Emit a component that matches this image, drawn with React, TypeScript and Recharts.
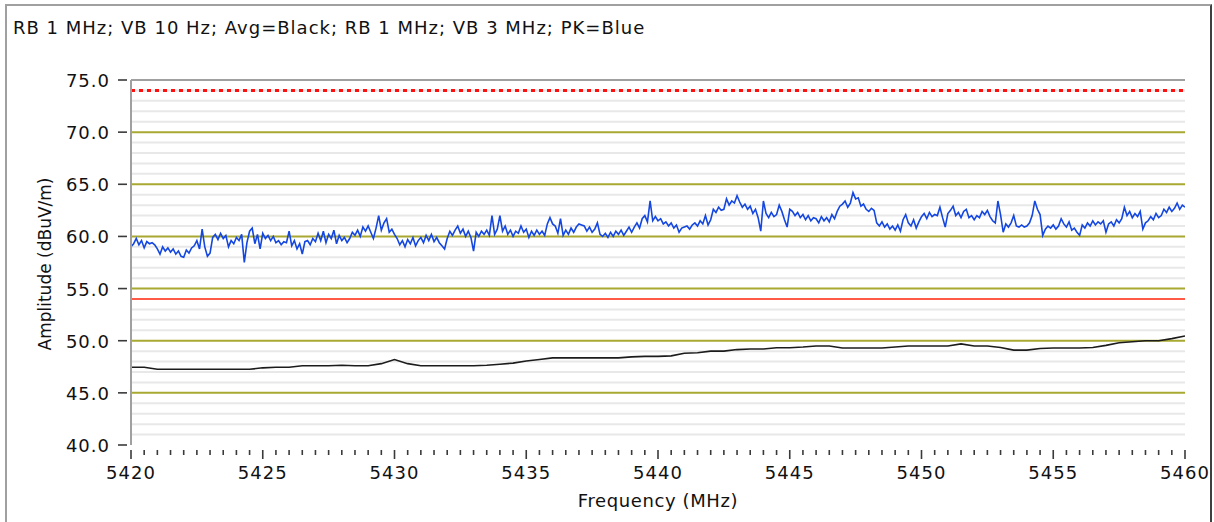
import React from "react";
import { LineChart, Line, XAxis, YAxis, ReferenceLine } from "recharts";

const title = "RB 1 MHz; VB 10 Hz; Avg=Black; RB 1 MHz; VB 3 MHz; PK=Blue";

// peak trace, one row per MHz, 0.1 MHz apart, starting at 5420
const pkStart = 5420;
const pkStep = 0.1;
const pkRows = [
  [59.0, 59.3, 59.8, 59.2, 59.6, 58.9, 59.5, 59.3, 59.4, 59.2],
  [58.8, 58.3, 59.0, 58.6, 58.9, 58.5, 58.8, 58.3, 58.6, 58.1],
  [58.0, 58.7, 58.4, 58.9, 59.1, 59.6, 58.8, 60.7, 59.0, 58.1],
  [58.4, 59.9, 60.2, 59.7, 60.3, 59.8, 60.1, 59.0, 59.6, 59.3],
  [59.9, 59.6, 60.2, 57.5, 59.4, 60.5, 60.8, 59.3, 60.2, 58.8],
  [60.3, 59.8, 60.1, 59.6, 60.0, 59.4, 59.6, 59.2, 59.5, 59.4],
  [60.5, 59.1, 59.6, 58.8, 59.3, 58.3, 59.5, 59.6, 59.2, 59.8],
  [59.5, 60.3, 59.6, 60.5, 59.4, 60.2, 59.8, 60.6, 59.3, 60.1],
  [59.6, 59.9, 59.4, 59.8, 60.4, 60.1, 60.6, 60.0, 60.9, 60.5],
  [61.0, 60.4, 59.8, 60.8, 62.0, 60.6, 61.3, 61.7, 60.4, 60.7],
  [60.2, 59.8, 59.2, 59.6, 59.0, 59.7, 59.3, 59.9, 59.1, 59.6],
  [59.9, 59.4, 60.1, 59.6, 60.2, 59.5, 59.9, 59.4, 59.1, 58.8],
  [59.8, 60.5, 60.1, 60.6, 61.0, 60.3, 60.7, 60.0, 60.5, 59.9],
  [58.6, 60.4, 60.0, 60.5, 60.2, 60.6, 60.1, 62.0, 60.2, 60.7],
  [62.0, 60.5, 61.0, 60.2, 60.6, 60.0, 60.5, 60.3, 61.0, 60.4],
  [60.7, 59.9, 60.5, 60.1, 60.6, 60.2, 60.5, 60.1, 61.2, 61.8],
  [61.2, 61.0, 60.3, 61.7, 60.1, 60.6, 60.2, 60.8, 60.4, 60.9],
  [61.2, 61.1, 61.0, 60.5, 60.9, 60.4, 60.7, 61.3, 60.2, 60.0],
  [60.3, 59.9, 60.4, 60.0, 60.5, 60.2, 60.6, 60.1, 60.5, 60.9],
  [60.4, 60.9, 61.3, 60.8, 61.7, 62.0, 61.4, 63.4, 61.5, 61.9],
  [61.5, 61.7, 61.2, 61.4, 61.0, 61.3, 60.8, 61.1, 60.4, 60.8],
  [60.9, 61.0, 60.7, 61.1, 61.3, 61.0, 61.5, 61.2, 62.0, 61.1],
  [61.6, 62.6, 62.3, 62.8, 62.5, 62.6, 63.6, 63.0, 63.4, 63.2],
  [63.9, 63.3, 62.8, 63.1, 62.6, 62.9, 62.2, 62.6, 61.8, 60.5],
  [63.4, 62.2, 61.8, 62.3, 61.9, 62.1, 63.0, 62.4, 61.6, 60.9],
  [62.6, 62.4, 62.0, 62.3, 61.8, 62.1, 61.6, 62.0, 61.5, 61.8],
  [61.7, 61.3, 61.9, 61.5, 61.8, 61.4, 62.1, 61.7, 62.4, 62.9],
  [63.1, 63.4, 62.8, 63.2, 64.2, 63.6, 63.7, 62.9, 63.1, 62.6],
  [62.4, 62.7, 62.5, 61.3, 61.0, 61.4, 60.9, 61.2, 60.7, 61.0],
  [60.6, 61.1, 60.5, 61.6, 62.1, 61.3, 61.0, 61.6, 60.8, 61.4],
  [61.9, 62.2, 61.7, 62.3, 61.9, 62.1, 62.0, 62.8, 61.8, 60.9],
  [62.2, 62.5, 62.9, 62.0, 62.3, 61.8, 62.4, 62.6, 61.8, 62.0],
  [61.6, 62.0, 61.8, 62.4, 62.1, 62.5, 61.9, 61.5, 61.3, 63.4],
  [62.1, 60.4, 61.2, 60.9, 61.3, 62.0, 61.0, 60.9, 61.1, 60.9],
  [61.0, 61.3, 62.0, 63.4, 62.6, 62.1, 60.1, 60.7, 61.0, 60.8],
  [61.1, 60.7, 61.0, 61.7, 61.2, 60.9, 61.4, 60.6, 60.8, 60.4],
  [60.1, 61.1, 60.8, 61.3, 61.0, 61.5, 61.1, 61.4, 61.2, 61.5],
  [60.4, 61.2, 61.4, 61.0, 61.6, 61.3, 61.7, 62.8, 62.0, 62.4],
  [61.8, 62.2, 61.9, 62.4, 60.7, 61.3, 61.5, 61.9, 61.6, 62.2],
  [61.8, 62.0, 62.6, 62.3, 62.8, 62.4, 62.7, 63.2, 62.6, 63.0],
  [62.8],
];

// average trace, 0.5 MHz apart, starting at 5420
const avgStart = 5420;
const avgStep = 0.5;
const avgValues = [
  47.45, 47.45, 47.26, 47.26, 47.26, 47.26, 47.26, 47.26, 47.26, 47.26,
  47.4, 47.45, 47.45, 47.6, 47.6, 47.6, 47.65, 47.6, 47.6, 47.8,
  48.2, 47.8, 47.6, 47.6, 47.6, 47.6, 47.6, 47.65, 47.75, 47.85,
  48.05, 48.2, 48.35, 48.35, 48.35, 48.35, 48.35, 48.35, 48.45, 48.5,
  48.5, 48.55, 48.8, 48.85, 49.0, 49.0, 49.15, 49.2, 49.2, 49.33,
  49.33, 49.4, 49.5, 49.5, 49.3, 49.3, 49.3, 49.3, 49.4, 49.5,
  49.5, 49.5, 49.5, 49.7, 49.5, 49.5, 49.35, 49.1, 49.1, 49.25,
  49.3, 49.3, 49.3, 49.35, 49.55, 49.8, 49.9, 50.0, 50.0, 50.2,
  50.45,
];

const limitAvg = 54;
const limitPk = 74;

const yTicks = [40, 45, 50, 55, 60, 65, 70, 75];
const yMajorGrid = [45, 50, 55, 60, 65, 70];
const yMinorGrid = [41, 42, 43, 44, 46, 47, 48, 49, 51, 52, 53, 54, 56, 57, 58, 59, 61, 62, 63, 64, 66, 67, 68, 69, 71, 72, 73, 74];
const xMajor = [5420, 5425, 5430, 5435, 5440, 5445, 5450, 5455, 5460];

const pkData = pkRows.flat().map((v, i) => ({ f: +(pkStart + i * pkStep).toFixed(1), v }));
const avgData = avgValues.map((v, i) => ({ f: avgStart + i * avgStep, v }));

const xTicks: number[] = [];
for (let i = 0; i <= 80; i++) xTicks.push(5420 + i * 0.5);

const FONT = "'DejaVu Sans', Verdana, sans-serif";
const PLOT_TOP = 80;
const PLOT_BOTTOM = 445;
const PLOT_LEFT = 131;

const XTick = (props: any) => {
  const { x, payload } = props;
  const major = xMajor.includes(payload.value);
  const y = PLOT_BOTTOM;
  return (
    <g>
      <line x1={x} x2={x} y1={y + 5} y2={y + (major ? 14 : 10)} stroke="#3a3a3a" strokeWidth={1.6} />
      {major && (
        <text x={x} y={y + 34} textAnchor="middle" fontSize={18} fontFamily={FONT} fill="#111" letterSpacing={1}>
          {payload.value}
        </text>
      )}
    </g>
  );
};

const YTick = (props: any) => {
  const { y, payload } = props;
  const x = PLOT_LEFT;
  return (
    <g>
      <line x1={x - 13} x2={x - 4} y1={y} y2={y} stroke="#3a3a3a" strokeWidth={1.6} />
      <text x={x - 21} y={y + 7} textAnchor="end" fontSize={18} fontFamily={FONT} fill="#111" letterSpacing={1}>
        {payload.value.toFixed(1)}
      </text>
    </g>
  );
};

export default function App() {
  return (
    <div style={{ position: "absolute", left: 0, top: 0, width: 1214, height: 522, background: "#fff", overflow: "hidden" }}>
      <div
        style={{
          position: "absolute",
          left: 5,
          top: 4,
          width: 1203,
          height: 540,
          borderLeft: "2px solid #a0a0a0",
          borderTop: "2px solid #a0a0a0",
          borderRight: "2px solid #404040",
        }}
      />
      <div
        style={{
          position: "absolute",
          left: 13,
          top: 17,
          fontFamily: FONT,
          fontSize: 18,
          letterSpacing: 1,
          color: "#111",
          whiteSpace: "nowrap",
        }}
      >
        {title}
      </div>
      <div style={{ position: "absolute", left: 0, top: 0 }}>
        <LineChart width={1214} height={522} margin={{ top: PLOT_TOP, right: 29, bottom: 0, left: 0 }}>
          <XAxis
            dataKey="f"
            type="number"
            domain={[5420, 5460]}
            ticks={xTicks}
            interval={0}
            height={522 - PLOT_BOTTOM}
            axisLine={false}
            tickLine={false}
            tick={<XTick />}
            allowDataOverflow
          />
          <YAxis
            type="number"
            domain={[40, 75]}
            ticks={yTicks}
            interval={0}
            width={PLOT_LEFT}
            axisLine={{ stroke: "#a0a0a0", strokeWidth: 2 }}
            tickLine={false}
            tick={<YTick />}
            allowDataOverflow
          />
          {yMinorGrid.map((v) => (
            <ReferenceLine key={"mn" + v} y={v} stroke="#e8e8e8" strokeWidth={2} />
          ))}
          {yMajorGrid.map((v) => (
            <ReferenceLine key={"mj" + v} y={v} stroke="#a8a832" strokeWidth={2} />
          ))}
          <ReferenceLine y={75} stroke="#a0a0a0" strokeWidth={2} />
          <ReferenceLine y={limitPk} stroke="#ff1010" strokeWidth={3} strokeDasharray="4 4" />
          <ReferenceLine y={limitAvg} stroke="#ff5a48" strokeWidth={2} />
          <Line
            data={avgData}
            dataKey="v"
            type="linear"
            stroke="#1c1c1c"
            strokeWidth={1.6}
            dot={false}
            isAnimationActive={false}
          />
          <Line
            data={pkData}
            dataKey="v"
            type="linear"
            stroke="#1447e0"
            strokeWidth={1.6}
            dot={false}
            isAnimationActive={false}
          />
        </LineChart>
      </div>
      <div
        style={{
          position: "absolute",
          left: 658,
          top: 490,
          transform: "translateX(-50%)",
          fontFamily: FONT,
          fontSize: 18,
          letterSpacing: 0.6,
          color: "#111",
          whiteSpace: "nowrap",
        }}
      >
        Frequency (MHz)
      </div>
      <div
        style={{
          position: "absolute",
          left: 45,
          top: 264,
          transform: "translate(-50%, -50%) rotate(-90deg)",
          fontFamily: FONT,
          fontSize: 17,
          color: "#111",
          whiteSpace: "nowrap",
        }}
      >
        Amplitude (dBuV/m)
      </div>
    </div>
  );
}
